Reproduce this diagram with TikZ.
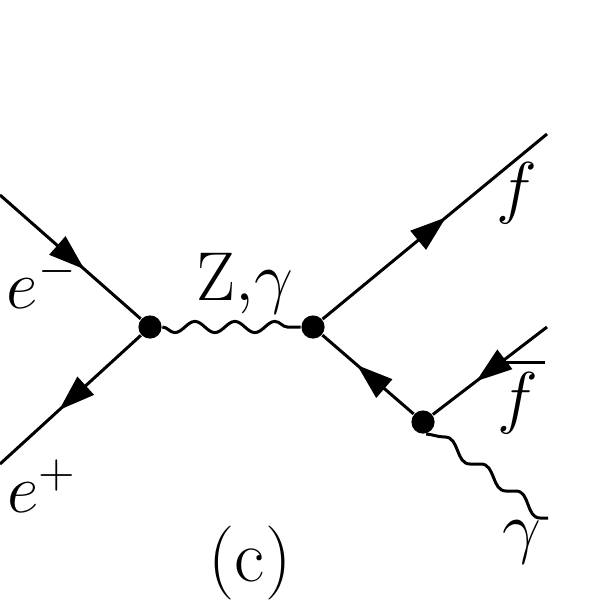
\documentclass[tikz,border=0pt]{standalone}
\usetikzlibrary{decorations.pathmorphing,decorations.markings,arrows.meta}
\tikzset{
  vtx/.style={circle,fill=black,inner sep=0pt,minimum size=5.8pt},
  fermion/.style={line width=0.75pt,decoration={markings,mark=at position #1 with {\arrow{Triangle[length=9pt,width=6pt]}}},postaction={decorate}},
  boson/.style={line width=0.75pt,decorate,decoration={snake,amplitude=1.4pt,segment length=10pt,mirror}},
  photonout/.style={line width=0.75pt},
  lbl/.style={font=\fontsize{18.5}{22}\selectfont,inner sep=0pt}
}
\begin{document}
\begin{tikzpicture}[x=0.25pt,y=-0.25pt]
\useasboundingbox (0,0) rectangle (600,600);
\node[vtx] (L) at (150,327) {};
\node[vtx] (R) at (313,327) {};
\node[vtx] (V) at (423,422) {};
\coordinate (em) at (0,195);
\coordinate (ep) at (0,464);
\coordinate (f) at (547,134);
\coordinate (fb) at (547,327);
\coordinate (g) at (548,518);
\draw[fermion=0.6] (em) -- (L);
\draw[fermion=0.58] (L) -- (ep);
\draw[fermion=0.55] (R) -- (f);
\draw[fermion=0.62] (V) -- (R);
\draw[fermion=0.62] (fb) -- (V);
\draw[boson] (L) -- (R);
\draw[photonout] (V.-75) to[out=-5,in=180] (445,437) to[out=0,in=180] (470,464) -- (481,464)
  to[out=0,in=180] (506,491) -- (516,491) to[out=0,in=180] (540,518) -- (g);
\node[lbl] (tem) at (42,282) {$e^-$};
\node[lbl] (tep) at (42,486) {$e^+$};
\node[lbl] (tz) at (245,284) {$\mathrm{Z},\!\gamma$};
\node[lbl] (tf) at (517,193) {$f$};
\node[lbl] (tfb) at (518,403) {$f$};
\draw[line width=0.75pt] (503,362) -- (545,362);
\node[lbl] (tg) at (522,542) {$\gamma$};
\node[lbl] (tc) at (250,563) {(c)};
\end{tikzpicture}
\end{document}
